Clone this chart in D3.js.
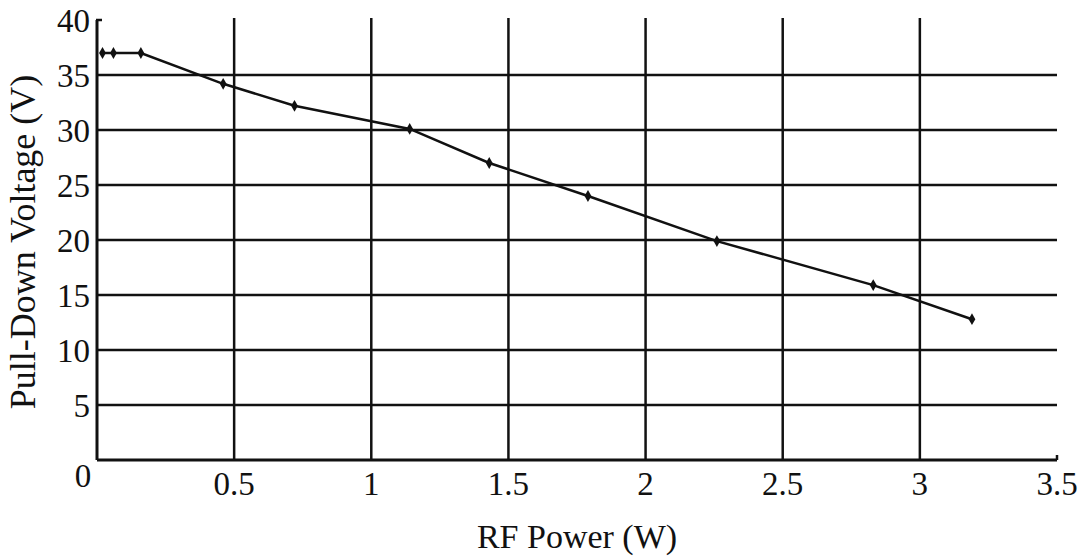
<!DOCTYPE html>
<html>
<head>
<meta charset="utf-8">
<script src="https://cdn.jsdelivr.net/npm/d3@7"></script>
<style>
  body { margin: 0; background: #fff; }
</style>
</head>
<body>
<div id="chart"></div>
<script>
// Sizing
const svgWidth = 1080,
  svgHeight = 556;
const margin = { left: 97, top: 20, right: 23, bottom: 96 };
const plotWidth = svgWidth - margin.left - margin.right,
  plotHeight = svgHeight - margin.top - margin.bottom;

// Data
const rfPower = [0.02, 0.06, 0.16, 0.46, 0.72, 1.14, 1.43, 1.79, 2.26, 2.83, 3.19];
const pullDown = [37, 37, 37, 34.2, 32.2, 30.1, 27, 24, 19.9, 15.9, 12.8];
const xTicks = [0, 0.5, 1, 1.5, 2, 2.5, 3, 3.5];
const yTicks = [0, 5, 10, 15, 20, 25, 30, 35, 40];
const xAxisTitle = "RF Power (W)";
const yAxisTitle = "Pull-Down Voltage (V)";

const ink = "#111";
const font = "'Liberation Serif', 'Times New Roman', serif";

var svg = d3.select("#chart")
  .append("svg")
  .attr("width", svgWidth)
  .attr("height", svgHeight)
  .append("g")
  .attr("transform", "translate(" + margin.left + "," + margin.top + ")");

var x = d3.scaleLinear().domain([0, 3.5]).range([0, plotWidth]);
var y = d3.scaleLinear().domain([0, 40]).range([plotHeight, 0]);

/** Grid */
// horizontal lines (no line at 40, only a small tick)
svg.append("g").selectAll("line")
  .data(yTicks.filter(d => d > 0 && d < 40))
  .enter().append("line")
  .attr("x1", 0)
  .attr("x2", x(3.5))
  .attr("y1", d => y(d))
  .attr("y2", d => y(d))
  .style("stroke", ink)
  .style("stroke-width", 2.5);

// vertical lines
svg.append("g").selectAll("line")
  .data(xTicks.filter(d => d > 0 && d < 3.5))
  .enter().append("line")
  .attr("x1", d => x(d))
  .attr("x2", d => x(d))
  .attr("y1", y(40) - 2)
  .attr("y2", y(0))
  .style("stroke", ink)
  .style("stroke-width", 2.5);

/** Axes lines */
svg.append("line")
  .attr("x1", 0).attr("x2", 0)
  .attr("y1", y(40)).attr("y2", y(0))
  .style("stroke", ink).style("stroke-width", 3);
svg.append("line")
  .attr("x1", 0).attr("x2", x(3.5))
  .attr("y1", y(0)).attr("y2", y(0))
  .style("stroke", ink).style("stroke-width", 3);
// small end ticks
svg.append("line")
  .attr("x1", -1).attr("x2", 5)
  .attr("y1", y(40)).attr("y2", y(40))
  .style("stroke", ink).style("stroke-width", 2.5);
svg.append("line")
  .attr("x1", x(3.5)).attr("x2", x(3.5))
  .attr("y1", y(0)).attr("y2", y(0) - 5)
  .style("stroke", ink).style("stroke-width", 2.5);

/** Tick labels */
svg.append("g").selectAll("text")
  .data(yTicks.filter(d => d > 0))
  .enter().append("text")
  .attr("x", -7)
  .attr("y", d => y(d))
  .attr("dy", "0.35em")
  .attr("text-anchor", "end")
  .style("font-family", font)
  .style("font-size", "33px")
  .style("fill", ink)
  .text(d => d);

svg.append("g").selectAll("text")
  .data(xTicks)
  .enter().append("text")
  .attr("x", d => d === 0 ? -14 : x(d))
  .attr("y", d => d === 0 ? y(0) + 27 : y(0) + 35)
  .attr("text-anchor", "middle")
  .style("font-family", font)
  .style("font-size", "33px")
  .style("fill", ink)
  .text(d => d);

/** Axis titles */
svg.append("text")
  .attr("x", 480)
  .attr("y", plotHeight + 88)
  .attr("text-anchor", "middle")
  .style("font-family", font)
  .style("font-size", "34px")
  .style("fill", ink)
  .text(xAxisTitle);

svg.append("text")
  .attr("transform", "translate(-62," + (y(20) + 2) + ") rotate(-90)")
  .attr("text-anchor", "middle")
  .style("font-family", font)
  .style("font-size", "36px")
  .style("fill", ink)
  .text(yAxisTitle);

/** Data line */
var points = rfPower.map((p, i) => ({ p: p, v: pullDown[i] }));

svg.append("path")
  .datum(points)
  .attr("d", d3.line().x(d => x(d.p)).y(d => y(d.v)))
  .style("fill", "none")
  .style("stroke", ink)
  .style("stroke-width", 2.5);

svg.append("g").selectAll("path")
  .data(points)
  .enter().append("path")
  .attr("d", d3.symbol().type(d3.symbolDiamond).size(40))
  .attr("transform", d => "translate(" + x(d.p) + "," + y(d.v) + ")")
  .style("fill", ink);
</script>
</body>
</html>
